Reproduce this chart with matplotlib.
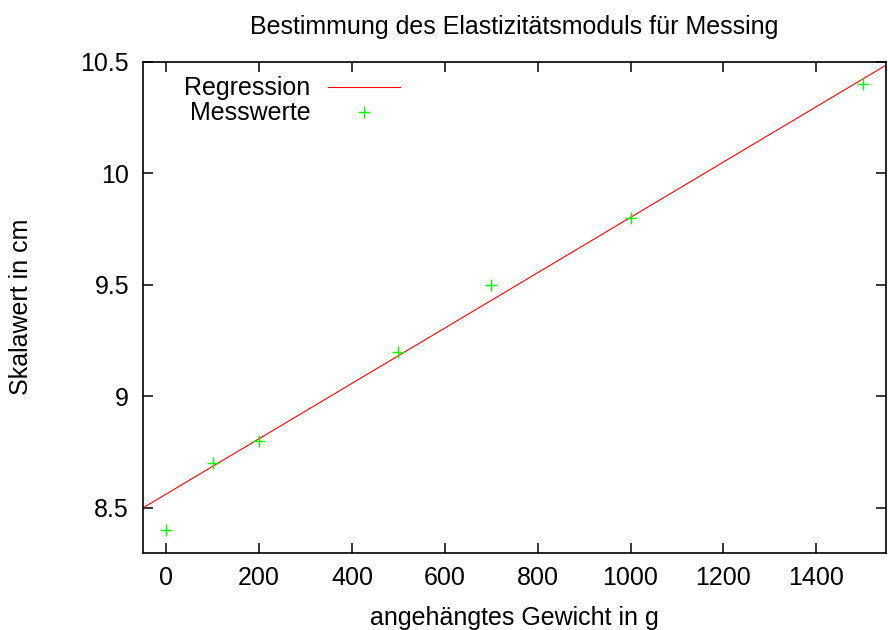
import matplotlib.pyplot as plt
from matplotlib.ticker import FormatStrFormatter

plt.rcParams['font.family'] = ['Liberation Sans', 'DejaVu Sans']

# Messwerte
gewicht = [0, 100, 200, 500, 700, 1000, 1500]
skala = [8.4, 8.7, 8.8, 9.2, 9.5, 9.8, 10.4]

# Regressionsgerade y = m*x + b
m = 0.001241
b = 8.562
x_reg = [-50, 1550]
y_reg = [m * x + b for x in x_reg]

fig = plt.figure(figsize=(8.88, 6.3), dpi=100)
ax = fig.add_axes([0.161, 0.123, 0.8367, 0.7786])

ax.plot(x_reg, y_reg, color='#ff0000', lw=0.8, label='Regression')
ax.plot(gewicht, skala, ls='none', marker='+', ms=9, mew=1.0,
        color='#00ff00', label='Messwerte')

ax.set_xlim(-50, 1550)
ax.set_ylim(8.3, 10.5)
ax.set_xticks(range(0, 1401, 200))
ax.set_yticks([8.5, 9, 9.5, 10, 10.5])
ax.yaxis.set_major_formatter(FormatStrFormatter('%g'))

ax.tick_params(direction='in', length=7, width=1.1, top=True, right=True,
               labelsize=18, pad=10)
for s in ax.spines.values():
    s.set_linewidth(1.2)

ax.set_title('Bestimmung des Elastizitätsmoduls für Messing', fontsize=18, pad=20)
ax.set_xlabel('angehängtes Gewicht in g', fontsize=18, labelpad=11)
ax.set_ylabel('Skalawert in cm', fontsize=18)
ax.yaxis.set_label_coords(-0.148, 0.5)

ax.legend(loc='upper left', frameon=False, markerfirst=False, fontsize=18,
          handlelength=2.9, handletextpad=0.7, labelspacing=0.04,
          borderaxespad=0.0, borderpad=0.58, bbox_to_anchor=(0.0356, 1.0))

plt.savefig('out.png', dpi=100)
